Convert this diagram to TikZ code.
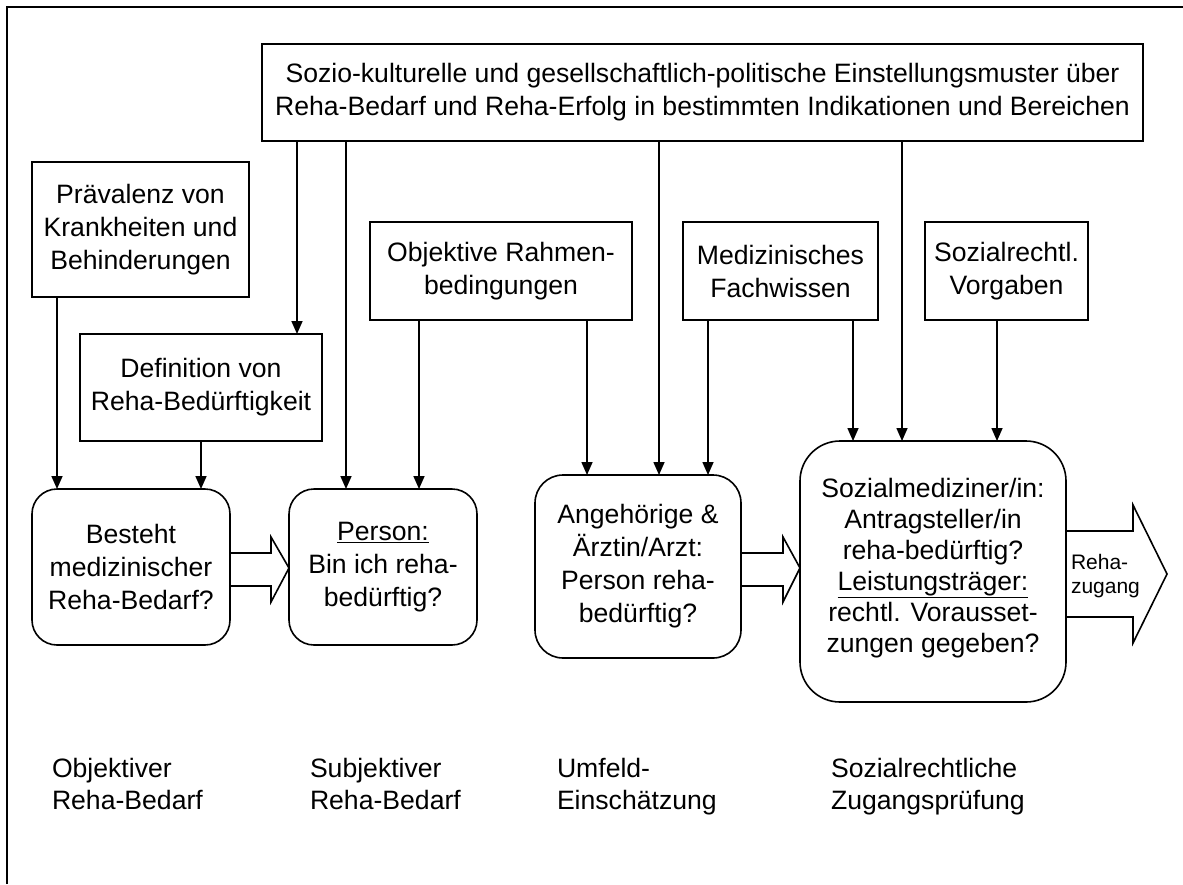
\documentclass[tikz,border=0pt]{standalone}
\usepackage{fontspec}
\setmainfont{Liberation Sans}
\usetikzlibrary{arrows.meta}
\begin{document}
\begin{tikzpicture}[x=1pt,y=-1pt,
  every node/.style={inner sep=0pt,outer sep=0pt},
  txt/.style={font=\fontsize{26.6}{33}\selectfont,align=center},
  plainbox/.style={txt,draw,line width=1.6pt,rectangle},
  roundbox/.style={txt,draw,line width=1.6pt,rectangle},
  arr/.style={line width=1.6pt,-{Triangle[length=13pt,width=11pt]}},
  blockarr/.style={line width=1.6pt,line join=miter},
  label/.style={font=\fontsize{26.6}{32}\selectfont,align=left,anchor=north west}]
\useasboundingbox (0,0) rectangle (1183,884);
\draw[line width=2.2pt] (7,884) -- (7,7) -- (1183,7);

% top boxes
\node[plainbox,minimum width=881pt,minimum height=97pt] (soz) at (702.5,92.5)
  {Sozio-kulturelle und gesellschaftlich-politische Einstellungsmuster über\\Reha-Bedarf und Reha-Erfolg in bestimmten Indikationen und Bereichen};
\node[plainbox,minimum width=217pt,minimum height=135pt] (prav) at (140.5,229.5)
  {Prävalenz von\\Krankheiten und\\Behinderungen};
\node[plainbox,minimum width=242pt,minimum height=107pt] (def) at (201,387.5)
  {Definition von\\Reha-Bedürftigkeit};
\node[plainbox,minimum width=262pt,minimum height=98pt] (obj) at (501,271)
  {Objektive Rahmen-\\bedingungen};
\node[plainbox,minimum width=195pt,minimum height=98pt] (med) at (780.5,271)
  {Medizinisches\\Fachwissen};
\node[plainbox,minimum width=163pt,minimum height=98pt] (srv) at (1006.5,271)
  {Sozialrechtl.\\Vorgaben};

% process boxes
\node[roundbox,rounded corners=25pt,minimum width=198pt,minimum height=156pt] (b1) at (131,567)
  {Besteht\\medizinischer\\Reha-Bedarf?};
\node[roundbox,rounded corners=25pt,minimum width=188pt,minimum height=156pt] (b2) at (383,567)
  {\underline{Person:}\\Bin ich reha-\\bedürftig?};
\node[roundbox,rounded corners=28pt,minimum width=206pt,minimum height=183pt] (b3) at (638,566.5)
  {Angehörige \&\\Ärztin/Arzt:\\Person reha-\\bedürftig?};
\node[roundbox,rounded corners=40pt,minimum width=266pt,minimum height=261pt,font=\fontsize{26.6}{31}\selectfont] (b4) at (933,571.5)
  {Sozialmediziner/in:\\Antragsteller/in\\reha-bedürftig?\\\underline{Leistungsträger:}\\rechtl. Vorausset-\\zungen gegeben?\\[-18pt]};

% columns
\coordinate (c1) at (57,0);
\coordinate (c2) at (201,0);
\coordinate (c3) at (297,0);
\coordinate (c4) at (346,0);
\coordinate (c5) at (419,0);
\coordinate (c6) at (587,0);
\coordinate (c7) at (659,0);
\coordinate (c8) at (708,0);
\coordinate (c9) at (853,0);
\coordinate (c10) at (902,0);
\coordinate (c11) at (997,0);

\draw[arr] (prav.south -| c1) -- (b1.north -| c1);
\draw[arr] (def.south -| c2) -- (b1.north -| c2);
\draw[arr] (soz.south -| c3) -- (def.north -| c3);
\draw[arr] (soz.south -| c4) -- (b2.north -| c4);
\draw[arr] (obj.south -| c5) -- (b2.north -| c5);
\draw[arr] (obj.south -| c6) -- (b3.north -| c6);
\draw[arr] (soz.south -| c7) -- (b3.north -| c7);
\draw[arr] (med.south -| c8) -- (b3.north -| c8);
\draw[arr] (med.south -| c9) -- (b4.north -| c9);
\draw[arr] (soz.south -| c10) -- (b4.north -| c10);
\draw[arr] (srv.south -| c11) -- (b4.north -| c11);

% block arrows
\draw[blockarr] (b1.east |- 0,553) -- (271,553) -- (271,537) -- (b2.west |- 0,568) -- (271,602) -- (271,586) -- (b1.east |- 0,586);
\draw[blockarr] (b3.east |- 0,553) -- (783,553) -- (783,537) -- (b4.west |- 0,568) -- (783,602) -- (783,586) -- (b3.east |- 0,586);
\coordinate (tip) at (1167,574);
\draw[blockarr] (b4.east |- 0,531) -- (1133,531) -- (1133,505) -- (tip) -- (1133,643) -- (1133,617) -- (b4.east |- 0,617);
\node[font=\fontsize{21}{24}\selectfont,align=left,anchor=west] (rz) at (1071,576) {Reha-\\zugang};

% bottom labels
\node[label] (l1) at (52,758) {Objektiver\\Reha-Bedarf};
\node[label] (l2) at (310,758) {Subjektiver\\Reha-Bedarf};
\node[label] (l3) at (557,758) {Umfeld-\\Einschätzung};
\node[label] (l4) at (831,758) {Sozialrechtliche\\Zugangsprüfung};
\end{tikzpicture}
\end{document}
